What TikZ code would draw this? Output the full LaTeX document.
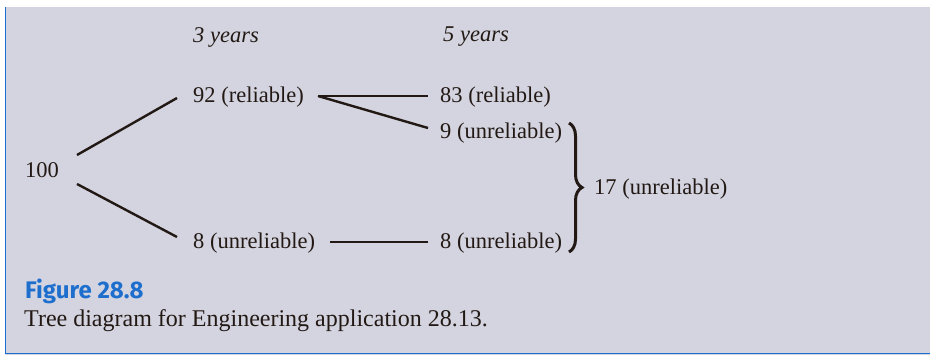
\documentclass[tikz,border=0pt]{standalone}
\usepackage{fontspec}
\setmainfont{Liberation Serif}
\newfontfamily\figfont{Fira Sans}
\usetikzlibrary{decorations.pathreplacing}
\definecolor{bg}{RGB}{211,212,224}
\definecolor{figblue}{RGB}{30,110,205}
\definecolor{ink}{RGB}{35,25,20}
\tikzset{
  lbl/.style={inner sep=0pt, anchor=west, text=ink, font=\fontsize{22.5}{26}\selectfont},
  hdr/.style={inner sep=0pt, anchor=west, text=ink, font=\fontsize{22.5}{26}\selectfont\itshape},
  conn/.style={draw=ink, line width=2.4pt},
}
\begin{document}
\begin{tikzpicture}[x=1pt,y=-1pt]
\useasboundingbox (0,0) rectangle (930,355);
\fill[white] (0,0) rectangle (930,355);
\fill[bg] (5,7) rectangle (930,355);
\draw[figblue, line width=1.5pt] (5.5,7) -- (5.5,353.5) -- (930,353.5);
\node[hdr] (h3) at (193,37) {3 years};
\node[hdr] (h5) at (443,37) {5 years};
\node[lbl] (root) at (25,170) {100};
\node[lbl] (r92) at (193,97) {92 (reliable)};
\node[lbl] (u8) at (193,243) {8 (unreliable)};
\node[lbl] (r83) at (440,97) {83 (reliable)};
\node[lbl] (u9) at (440,133) {9 (unreliable)};
\node[lbl] (u8b) at (440,243) {8 (unreliable)};
\node[lbl] (u17) at (594,189) {17 (unreliable)};
\coordinate (a1) at (77,155);
\coordinate (a2) at (177,98);
\coordinate (b1) at (77,184);
\coordinate (b2) at (177,237);
\coordinate (c0) at (318,96);
\coordinate (c1) at (428,96);
\coordinate (c2) at (428,128);
\coordinate (d1) at (330,242);
\coordinate (d2) at (428,242);
\draw[conn] (a1) -- (a2);
\draw[conn] (b1) -- (b2);
\draw[conn] (c0) -- (c1);
\draw[conn] (c0) -- (c2);
\draw[conn] (d1) -- (d2);
\coordinate (br1) at (569,123);
\coordinate (br2) at (569,252);
\draw[ink, line width=3pt, decorate, decoration={brace, amplitude=13pt}] (br1) -- (br2);
\node[inner sep=0pt, anchor=base west, text=figblue, font=\figfont\bfseries\fontsize{24}{28}\selectfont] (fig) at (25,299) {Figure 28.8};
\node[inner sep=0pt, anchor=base west, text=ink, font=\fontsize{24}{28}\selectfont] (cap) at (24,327) {Tree diagram for Engineering application 28.13.};
\end{tikzpicture}
\end{document}
